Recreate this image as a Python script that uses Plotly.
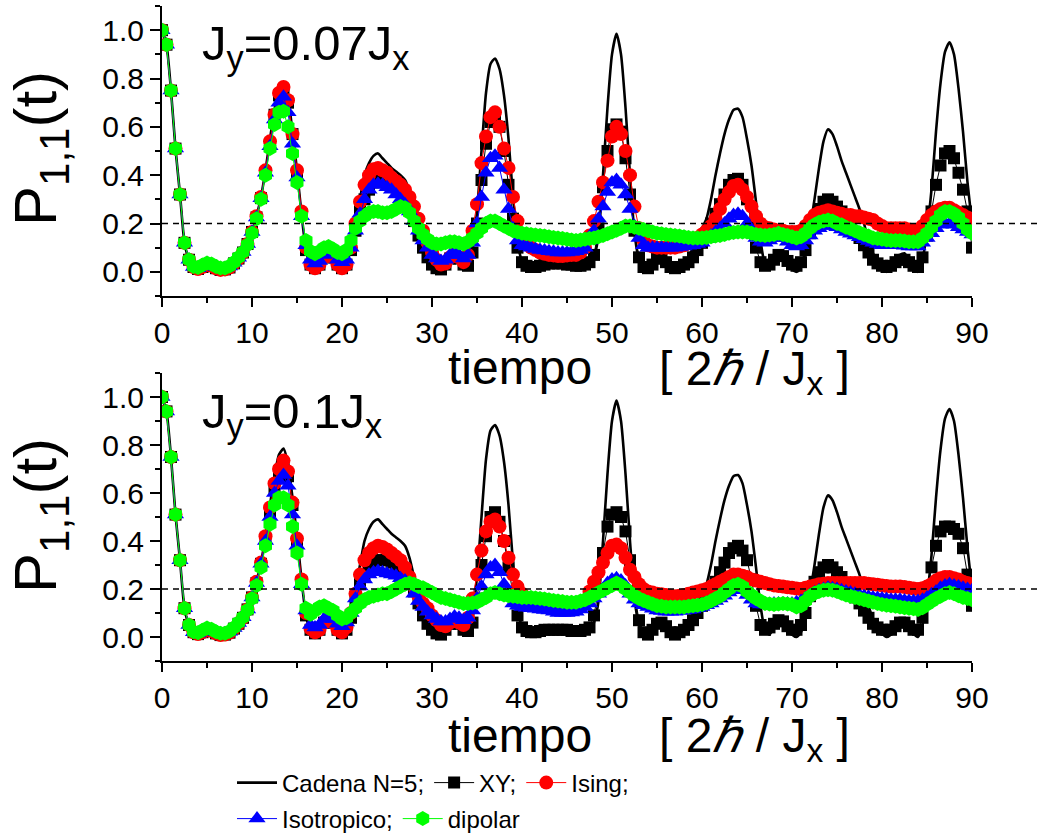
import numpy as np
import plotly.graph_objects as go

# time grid (units of 2hbar/Jx), sampled every 0.5
t = np.arange(0, 90.5, 0.5)

# ---------------- chain reference (same in both panels) ----------------
cadena = [
    1.0, 0.94, 0.75, 0.51, 0.32, 0.12, 0.05, 0.02, 0.012, 0.02,
    0.03, 0.025, 0.015, 0.008, 0.01, 0.018, 0.035, 0.055, 0.08, 0.115,
    0.165, 0.23, 0.31, 0.42, 0.55, 0.67, 0.76, 0.785, 0.72, 0.58,
    0.42, 0.24, 0.09, 0.025, 0.01, 0.03, 0.06, 0.075, 0.06, 0.03,
    0.01, 0.03, 0.10, 0.20, 0.30, 0.40, 0.45, 0.48, 0.49, 0.47,
    0.45, 0.43, 0.415, 0.40, 0.38, 0.33, 0.25, 0.16, 0.09, 0.04,
    0.015, 0.005, 0.01, 0.03, 0.06, 0.075, 0.06, 0.025, 0.02, 0.09,
    0.25, 0.50, 0.74, 0.86, 0.883, 0.84, 0.73, 0.55, 0.31, 0.13,
    0.04, 0.01, 0.005, 0.008, 0.015, 0.02, 0.025, 0.03, 0.03, 0.03,
    0.03, 0.025, 0.02, 0.015, 0.015, 0.02, 0.06, 0.15, 0.40, 0.68,
    0.90, 0.985, 0.90, 0.68, 0.40, 0.16, 0.05, 0.01, 0.0, 0.02,
    0.05, 0.065, 0.05, 0.02, 0.0, 0.01, 0.03, 0.06, 0.10, 0.14,
    0.18, 0.22, 0.30, 0.40, 0.49, 0.57, 0.63, 0.67, 0.675, 0.64,
    0.55, 0.44, 0.29, 0.13, 0.03, 0.01, 0.04, 0.07, 0.07, 0.04,
    0.01, 0.0, 0.02, 0.08, 0.18, 0.30, 0.43, 0.54, 0.59, 0.57,
    0.52, 0.46, 0.41, 0.36, 0.31, 0.26, 0.20, 0.13, 0.077, 0.04,
    0.015, 0.0, 0.01, 0.04, 0.07, 0.077, 0.05, 0.015, 0.0, 0.05,
    0.17, 0.34, 0.58, 0.78, 0.91, 0.95, 0.90, 0.76, 0.58, 0.37,
    0.20,
]

# ---------------- panel A: Jy = 0.07 Jx ----------------
xy_a = [
    1.0, 0.94, 0.75, 0.51, 0.32, 0.12, 0.05, 0.02, 0.012, 0.02,
    0.03, 0.025, 0.015, 0.008, 0.01, 0.018, 0.035, 0.055, 0.08, 0.115,
    0.165, 0.225, 0.305, 0.41, 0.53, 0.65, 0.73, 0.75, 0.70, 0.57,
    0.41, 0.24, 0.09, 0.03, 0.015, 0.03, 0.06, 0.075, 0.06, 0.03,
    0.015, 0.03, 0.09, 0.17, 0.25, 0.30, 0.34, 0.37, 0.38, 0.38,
    0.37, 0.36, 0.35, 0.33, 0.31, 0.27, 0.21, 0.15, 0.10, 0.06,
    0.03, 0.015, 0.01, 0.03, 0.055, 0.065, 0.055, 0.03, 0.025, 0.08,
    0.20, 0.38, 0.53, 0.62, 0.64, 0.60, 0.50, 0.36, 0.22, 0.10,
    0.04, 0.025, 0.02, 0.02, 0.025, 0.03, 0.035, 0.035, 0.035, 0.035,
    0.03, 0.03, 0.025, 0.025, 0.03, 0.04, 0.07, 0.18, 0.35, 0.50,
    0.59, 0.61, 0.58, 0.47, 0.32, 0.17, 0.06, 0.02, 0.015, 0.03,
    0.055, 0.055, 0.04, 0.02, 0.015, 0.02, 0.03, 0.04, 0.06, 0.09,
    0.12, 0.16, 0.20, 0.24, 0.28, 0.32, 0.36, 0.38, 0.385, 0.36,
    0.30, 0.20, 0.10, 0.04, 0.025, 0.03, 0.05, 0.07, 0.065, 0.045,
    0.03, 0.025, 0.04, 0.09, 0.16, 0.22, 0.26, 0.29, 0.30, 0.29,
    0.27, 0.25, 0.22, 0.19, 0.165, 0.14, 0.11, 0.08, 0.05, 0.035,
    0.025, 0.02, 0.025, 0.04, 0.05, 0.05, 0.04, 0.025, 0.02, 0.06,
    0.15, 0.25, 0.36, 0.44, 0.49, 0.50, 0.47, 0.41, 0.34, 0.25,
    0.10,
]
ising_a = [
    1.0, 0.94, 0.75, 0.51, 0.32, 0.12, 0.05, 0.02, 0.012, 0.02,
    0.03, 0.025, 0.015, 0.008, 0.01, 0.018, 0.035, 0.055, 0.08, 0.115,
    0.165, 0.23, 0.31, 0.42, 0.54, 0.65, 0.74, 0.765, 0.71, 0.57,
    0.42, 0.25, 0.10, 0.03, 0.015, 0.03, 0.06, 0.075, 0.06, 0.03,
    0.015, 0.03, 0.10, 0.20, 0.29, 0.36, 0.40, 0.425, 0.43, 0.42,
    0.41, 0.39, 0.375, 0.36, 0.34, 0.31, 0.27, 0.22, 0.17, 0.12,
    0.08, 0.05, 0.03, 0.035, 0.06, 0.075, 0.06, 0.04, 0.07, 0.17,
    0.28, 0.45, 0.56, 0.64, 0.66, 0.60, 0.51, 0.43, 0.31, 0.21,
    0.15, 0.12, 0.10, 0.09, 0.08, 0.075, 0.07, 0.068, 0.065, 0.065,
    0.068, 0.07, 0.07, 0.08, 0.10, 0.15, 0.21, 0.29, 0.37, 0.46,
    0.56, 0.60, 0.57, 0.50, 0.40, 0.27, 0.18, 0.13, 0.11, 0.105,
    0.10, 0.10, 0.10, 0.10, 0.10, 0.105, 0.11, 0.12, 0.13, 0.14,
    0.155, 0.17, 0.19, 0.22, 0.26, 0.30, 0.33, 0.355, 0.36, 0.34,
    0.31, 0.27, 0.23, 0.20, 0.185, 0.18, 0.175, 0.17, 0.17, 0.165,
    0.165, 0.165, 0.17, 0.19, 0.215, 0.235, 0.245, 0.25, 0.255, 0.25,
    0.245, 0.24, 0.235, 0.235, 0.23, 0.23, 0.225, 0.22, 0.215, 0.20,
    0.19, 0.18, 0.18, 0.18, 0.18, 0.18, 0.175, 0.17, 0.175, 0.19,
    0.215, 0.235, 0.25, 0.26, 0.265, 0.265, 0.255, 0.245, 0.235, 0.225,
    0.21,
]
iso_a = [
    1.0, 0.94, 0.75, 0.51, 0.32, 0.12, 0.05, 0.02, 0.015, 0.025,
    0.035, 0.03, 0.02, 0.015, 0.015, 0.022, 0.038, 0.058, 0.082, 0.115,
    0.165, 0.225, 0.305, 0.41, 0.52, 0.63, 0.70, 0.725, 0.66, 0.53,
    0.39, 0.23, 0.11, 0.05, 0.035, 0.045, 0.07, 0.085, 0.075, 0.05,
    0.04, 0.05, 0.10, 0.17, 0.24, 0.30, 0.34, 0.36, 0.365, 0.36,
    0.35, 0.34, 0.32, 0.30, 0.28, 0.25, 0.21, 0.17, 0.13, 0.10,
    0.07, 0.055, 0.045, 0.05, 0.07, 0.08, 0.07, 0.055, 0.07, 0.12,
    0.20, 0.31, 0.41, 0.47, 0.48, 0.43, 0.34, 0.26, 0.18, 0.13,
    0.11, 0.105, 0.10, 0.095, 0.09, 0.088, 0.085, 0.083, 0.08, 0.08,
    0.08, 0.082, 0.085, 0.09, 0.10, 0.13, 0.17, 0.22, 0.27, 0.33,
    0.37, 0.38, 0.36, 0.32, 0.26, 0.19, 0.14, 0.11, 0.10, 0.10,
    0.10, 0.10, 0.10, 0.10, 0.10, 0.103, 0.105, 0.108, 0.11, 0.115,
    0.12, 0.135, 0.15, 0.165, 0.18, 0.20, 0.22, 0.235, 0.24, 0.23,
    0.20, 0.17, 0.14, 0.125, 0.12, 0.13, 0.14, 0.145, 0.14, 0.125,
    0.11, 0.105, 0.11, 0.13, 0.15, 0.17, 0.18, 0.19, 0.195, 0.19,
    0.185, 0.175, 0.165, 0.158, 0.15, 0.143, 0.135, 0.128, 0.12, 0.115,
    0.11, 0.11, 0.11, 0.11, 0.11, 0.108, 0.105, 0.105, 0.105, 0.12,
    0.14, 0.16, 0.18, 0.195, 0.20, 0.20, 0.195, 0.185, 0.175, 0.165,
    0.155,
]
dip_a = [
    1.0, 0.94, 0.75, 0.51, 0.32, 0.12, 0.05, 0.022, 0.018, 0.028,
    0.037, 0.032, 0.022, 0.016, 0.016, 0.024, 0.04, 0.06, 0.082, 0.112,
    0.16, 0.22, 0.30, 0.40, 0.51, 0.61, 0.66, 0.665, 0.60, 0.49,
    0.37, 0.23, 0.13, 0.085, 0.075, 0.085, 0.10, 0.105, 0.095, 0.08,
    0.075, 0.09, 0.13, 0.18, 0.21, 0.23, 0.245, 0.25, 0.25, 0.245,
    0.245, 0.25, 0.26, 0.27, 0.265, 0.245, 0.21, 0.18, 0.155, 0.135,
    0.12, 0.115, 0.115, 0.12, 0.125, 0.125, 0.12, 0.115, 0.125, 0.14,
    0.16, 0.18, 0.20, 0.21, 0.21, 0.20, 0.19, 0.18, 0.17, 0.165,
    0.16, 0.158, 0.155, 0.152, 0.15, 0.148, 0.145, 0.142, 0.14, 0.138,
    0.135, 0.132, 0.13, 0.132, 0.135, 0.138, 0.14, 0.145, 0.15, 0.158,
    0.165, 0.172, 0.18, 0.19, 0.19, 0.185, 0.18, 0.175, 0.17, 0.165,
    0.16, 0.158, 0.155, 0.152, 0.15, 0.148, 0.145, 0.142, 0.14, 0.14,
    0.14, 0.142, 0.145, 0.148, 0.15, 0.155, 0.16, 0.163, 0.165, 0.165,
    0.165, 0.16, 0.155, 0.152, 0.15, 0.152, 0.155, 0.16, 0.155, 0.15,
    0.145, 0.14, 0.145, 0.16, 0.18, 0.195, 0.205, 0.21, 0.215, 0.21,
    0.20, 0.195, 0.185, 0.178, 0.17, 0.162, 0.155, 0.148, 0.14, 0.138,
    0.135, 0.132, 0.13, 0.13, 0.13, 0.128, 0.125, 0.125, 0.125, 0.14,
    0.16, 0.185, 0.21, 0.235, 0.25, 0.25, 0.24, 0.225, 0.20, 0.175,
    0.16,
]

# ---------------- panel B: Jy = 0.1 Jx ----------------
xy_b = [
    1.0, 0.94, 0.75, 0.51, 0.32, 0.12, 0.05, 0.02, 0.012, 0.02,
    0.03, 0.025, 0.015, 0.008, 0.01, 0.018, 0.035, 0.055, 0.08, 0.115,
    0.165, 0.225, 0.305, 0.41, 0.52, 0.62, 0.69, 0.72, 0.67, 0.55,
    0.40, 0.23, 0.09, 0.03, 0.015, 0.03, 0.06, 0.075, 0.06, 0.03,
    0.015, 0.03, 0.08, 0.15, 0.22, 0.26, 0.29, 0.31, 0.32, 0.32,
    0.32, 0.31, 0.30, 0.285, 0.27, 0.23, 0.19, 0.14, 0.09, 0.055,
    0.03, 0.015, 0.01, 0.03, 0.055, 0.065, 0.055, 0.03, 0.025, 0.06,
    0.16, 0.30, 0.42, 0.50, 0.52, 0.48, 0.40, 0.29, 0.18, 0.09,
    0.04, 0.025, 0.02, 0.02, 0.025, 0.03, 0.03, 0.03, 0.03, 0.03,
    0.03, 0.025, 0.025, 0.025, 0.03, 0.04, 0.09, 0.20, 0.35, 0.46,
    0.51, 0.52, 0.50, 0.44, 0.32, 0.18, 0.07, 0.02, 0.01, 0.03,
    0.055, 0.06, 0.045, 0.02, 0.01, 0.02, 0.03, 0.05, 0.07, 0.10,
    0.13, 0.16, 0.19, 0.23, 0.27, 0.31, 0.35, 0.37, 0.38, 0.36,
    0.32, 0.24, 0.13, 0.05, 0.03, 0.04, 0.055, 0.07, 0.065, 0.045,
    0.03, 0.03, 0.05, 0.10, 0.17, 0.23, 0.27, 0.29, 0.30, 0.29,
    0.27, 0.25, 0.22, 0.19, 0.165, 0.14, 0.11, 0.08, 0.055, 0.04,
    0.03, 0.03, 0.03, 0.045, 0.06, 0.06, 0.045, 0.03, 0.03, 0.08,
    0.18, 0.29, 0.38, 0.44, 0.46, 0.46, 0.45, 0.43, 0.37, 0.26,
    0.13,
]
ising_b = [
    1.0, 0.94, 0.75, 0.51, 0.32, 0.12, 0.05, 0.02, 0.012, 0.02,
    0.03, 0.025, 0.015, 0.008, 0.01, 0.018, 0.035, 0.055, 0.08, 0.115,
    0.165, 0.23, 0.31, 0.42, 0.54, 0.64, 0.70, 0.735, 0.69, 0.56,
    0.41, 0.24, 0.10, 0.035, 0.02, 0.03, 0.06, 0.075, 0.06, 0.03,
    0.02, 0.04, 0.10, 0.18, 0.26, 0.32, 0.35, 0.37, 0.38, 0.375,
    0.365, 0.35, 0.335, 0.32, 0.29, 0.25, 0.21, 0.17, 0.14, 0.12,
    0.09, 0.07, 0.05, 0.045, 0.06, 0.07, 0.06, 0.05, 0.08, 0.16,
    0.26, 0.36, 0.44, 0.48, 0.49, 0.46, 0.40, 0.33, 0.26, 0.21,
    0.18, 0.16, 0.15, 0.145, 0.14, 0.135, 0.13, 0.125, 0.12, 0.118,
    0.115, 0.115, 0.12, 0.13, 0.15, 0.19, 0.23, 0.27, 0.31, 0.35,
    0.38, 0.385, 0.37, 0.33, 0.28, 0.25, 0.22, 0.20, 0.19, 0.185,
    0.18, 0.178, 0.175, 0.172, 0.17, 0.172, 0.175, 0.18, 0.185, 0.19,
    0.195, 0.20, 0.21, 0.22, 0.23, 0.24, 0.25, 0.26, 0.26, 0.255,
    0.25, 0.24, 0.235, 0.23, 0.225, 0.22, 0.215, 0.212, 0.21, 0.207,
    0.205, 0.202, 0.20, 0.205, 0.21, 0.215, 0.22, 0.222, 0.225, 0.225,
    0.225, 0.225, 0.225, 0.225, 0.225, 0.225, 0.225, 0.222, 0.22, 0.218,
    0.215, 0.212, 0.21, 0.21, 0.21, 0.208, 0.205, 0.202, 0.20, 0.203,
    0.21, 0.22, 0.235, 0.245, 0.25, 0.25, 0.245, 0.24, 0.23, 0.225,
    0.22,
]
iso_b = [
    1.0, 0.94, 0.75, 0.51, 0.32, 0.12, 0.05, 0.02, 0.015, 0.025,
    0.035, 0.03, 0.02, 0.015, 0.015, 0.022, 0.038, 0.058, 0.082, 0.115,
    0.165, 0.225, 0.305, 0.40, 0.50, 0.60, 0.65, 0.675, 0.63, 0.51,
    0.38, 0.22, 0.11, 0.05, 0.04, 0.05, 0.075, 0.085, 0.075, 0.055,
    0.045, 0.06, 0.10, 0.16, 0.21, 0.24, 0.26, 0.27, 0.275, 0.27,
    0.265, 0.26, 0.255, 0.245, 0.235, 0.21, 0.18, 0.15, 0.125, 0.105,
    0.09, 0.075, 0.065, 0.065, 0.075, 0.085, 0.08, 0.07, 0.08, 0.11,
    0.16, 0.21, 0.26, 0.29, 0.30, 0.27, 0.22, 0.17, 0.14, 0.13,
    0.125, 0.122, 0.12, 0.118, 0.115, 0.112, 0.11, 0.105, 0.10, 0.10,
    0.10, 0.102, 0.105, 0.115, 0.125, 0.14, 0.16, 0.18, 0.20, 0.225,
    0.24, 0.245, 0.235, 0.215, 0.18, 0.155, 0.14, 0.132, 0.125, 0.118,
    0.11, 0.108, 0.105, 0.105, 0.105, 0.108, 0.11, 0.112, 0.115, 0.12,
    0.125, 0.132, 0.14, 0.15, 0.16, 0.172, 0.185, 0.195, 0.20, 0.195,
    0.175, 0.155, 0.14, 0.135, 0.135, 0.138, 0.14, 0.14, 0.14, 0.14,
    0.14, 0.145, 0.15, 0.162, 0.175, 0.185, 0.195, 0.20, 0.205, 0.203,
    0.20, 0.195, 0.19, 0.185, 0.18, 0.175, 0.17, 0.168, 0.165, 0.162,
    0.16, 0.158, 0.155, 0.155, 0.155, 0.152, 0.15, 0.15, 0.15, 0.155,
    0.165, 0.178, 0.19, 0.205, 0.215, 0.22, 0.215, 0.21, 0.205, 0.20,
    0.195,
]
dip_b = [
    1.0, 0.94, 0.75, 0.51, 0.32, 0.12, 0.05, 0.022, 0.018, 0.028,
    0.037, 0.032, 0.022, 0.016, 0.016, 0.024, 0.04, 0.06, 0.082, 0.112,
    0.16, 0.215, 0.29, 0.38, 0.47, 0.55, 0.58, 0.58, 0.55, 0.46,
    0.35, 0.22, 0.12, 0.095, 0.11, 0.125, 0.13, 0.12, 0.11, 0.09,
    0.075, 0.08, 0.10, 0.12, 0.14, 0.155, 0.165, 0.17, 0.175, 0.18,
    0.18, 0.19, 0.20, 0.21, 0.22, 0.225, 0.22, 0.21, 0.205, 0.195,
    0.185, 0.175, 0.165, 0.16, 0.155, 0.15, 0.145, 0.14, 0.14, 0.142,
    0.145, 0.155, 0.165, 0.18, 0.185, 0.18, 0.175, 0.172, 0.17, 0.168,
    0.165, 0.165, 0.165, 0.162, 0.16, 0.158, 0.155, 0.152, 0.15, 0.148,
    0.145, 0.145, 0.145, 0.15, 0.155, 0.165, 0.175, 0.185, 0.195, 0.205,
    0.215, 0.225, 0.215, 0.20, 0.185, 0.172, 0.16, 0.152, 0.145, 0.138,
    0.13, 0.128, 0.125, 0.125, 0.125, 0.125, 0.125, 0.128, 0.13, 0.132,
    0.135, 0.142, 0.15, 0.16, 0.17, 0.185, 0.20, 0.215, 0.22, 0.21,
    0.19, 0.175, 0.16, 0.15, 0.14, 0.137, 0.135, 0.138, 0.14, 0.138,
    0.135, 0.125, 0.13, 0.15, 0.17, 0.182, 0.19, 0.195, 0.197, 0.195,
    0.19, 0.182, 0.175, 0.17, 0.165, 0.16, 0.155, 0.15, 0.145, 0.14,
    0.135, 0.132, 0.13, 0.128, 0.125, 0.122, 0.12, 0.118, 0.115, 0.122,
    0.135, 0.148, 0.16, 0.17, 0.18, 0.185, 0.18, 0.172, 0.165, 0.16,
    0.155,
]

x_ticks = [0, 10, 20, 30, 40, 50, 60, 70, 80, 90]
y_ticks = [0.0, 0.2, 0.4, 0.6, 0.8, 1.0]
y_tick_labels = ["0.0", "0.2", "0.4", "0.6", "0.8", "1.0"]
threshold = 0.2
panel_labels = ["J<sub>y</sub>=0.07J<sub>x</sub>", "J<sub>y</sub>=0.1J<sub>x</sub>"]

FONT = "Liberation Sans, Arial, sans-serif"

fig = go.Figure()

series_style = [
    # name, color, symbol, size, legend group
    ("XY;", "#000000", "square", 12, "legend"),
    ("Ising;", "#ff0000", "circle", 14, "legend"),
    ("Isotropico;", "#0000ff", "triangle-up", 15, "legend2"),
    ("dipolar", "#00ff00", "hexagon", 15, "legend2"),
]

panels = [
    ("x", "y", [xy_a, ising_a, iso_a, dip_a], True),
    ("x2", "y2", [xy_b, ising_b, iso_b, dip_b], False),
]

for xa, ya, data, show in panels:
    fig.add_trace(go.Scatter(
        x=t, y=cadena, xaxis=xa, yaxis=ya, mode="lines", name="Cadena N=5;",
        line=dict(color="black", width=2.6, shape="spline", smoothing=0.6),
        showlegend=show, legend="legend"))
    for (name, color, sym, size, leg), vals in zip(series_style, data):
        fig.add_trace(go.Scatter(
            x=t, y=vals, xaxis=xa, yaxis=ya, mode="lines+markers", name=name,
            line=dict(color=color, width=1),
            marker=dict(symbol=sym, size=size, color=color, line=dict(width=0)),
            showlegend=show, legend=leg))

# pixel -> paper helpers (plot area spans x 162..972, y 6..661 px)
L, R, T, B = 162, 972, 6, 661
def px(x):
    return (x - L) / (R - L)
def py(y):
    return (B - y) / (B - T)

top_dom = [py(296), 1.0]
bot_dom = [0.0, py(373)]

axis_common = dict(
    showline=True, linecolor="black", linewidth=2, mirror=False,
    showgrid=False, zeroline=False, ticks="outside", tickcolor="black",
    tickwidth=1.5, tickfont=dict(family=FONT, size=30, color="black"),
)

for i, (xa, ya, dom) in enumerate([("xaxis", "yaxis", top_dom), ("xaxis2", "yaxis2", bot_dom)]):
    fig.layout[xa] = dict(
        axis_common, range=[0, 90], tickvals=x_ticks, ticklen=9,
        anchor="y" if i == 0 else "y2",
        minor=dict(dtick=5, tick0=5, ticklen=5, ticks="outside", tickcolor="black", tickwidth=1.5),
    )
    fig.layout[ya] = dict(
        axis_common, range=[-0.1, 1.1], domain=dom, tickvals=y_ticks, ticktext=y_tick_labels,
        ticklen=10, anchor="x" if i == 0 else "x2",
        minor=dict(dtick=0.1, tick0=-0.1, ticklen=5, ticks="outside", tickcolor="black", tickwidth=1.5),
    )

# dashed 0.2 reference line in each panel (extends past the right end)
shapes = []
for dom in (top_dom, bot_dom):
    yv = dom[0] + (threshold + 0.1) / 1.2 * (dom[1] - dom[0])
    shapes.append(dict(type="line", xref="paper", yref="paper", x0=0, x1=px(1037), y0=yv, y1=yv,
                       line=dict(color="black", width=1.3, dash="6px,5px")))

annotations = []
for i, dy in enumerate([0, 367]):
    annotations.append(dict(
        text="P<sub>1,1</sub>(t)", textangle=-90, xref="paper", yref="paper",
        x=px(40), y=py(148 + dy), xanchor="center", yanchor="middle", showarrow=False,
        font=dict(family=FONT, size=60, color="black")))
    annotations.append(dict(
        text="tiempo", xref="paper", yref="paper", x=px(520), y=py(368 + dy),
        xanchor="center", yanchor="middle", showarrow=False,
        font=dict(family=FONT, size=48, color="black")))
    annotations.append(dict(
        text="[ 2<i><span style='font-family:Liberation Serif'>ℏ</span></i> / J<sub>x</sub> ]",
        xref="paper", yref="paper", x=px(754), y=py(372 + dy),
        xanchor="center", yanchor="middle", showarrow=False,
        font=dict(family=FONT, size=48, color="black")))
    annotations.append(dict(
        text=panel_labels[i], xref="paper", yref="paper", x=px(200), y=py(47 + dy),
        xanchor="left", yanchor="middle", showarrow=False,
        font=dict(family=FONT, size=49, color="black")))

fig.update_layout(
    width=1037, height=837,
    margin=dict(l=L, r=1037 - R, t=T, b=837 - B),
    paper_bgcolor="white", plot_bgcolor="white",
    font=dict(family=FONT, color="black"),
    shapes=shapes, annotations=annotations,
    legend=dict(orientation="h", xref="container", yref="container",
                x=232 / 1037, y=1 - 783 / 837, xanchor="left", yanchor="middle",
                font=dict(family=FONT, size=24, color="black"), bgcolor="rgba(0,0,0,0)",
                itemwidth=40, tracegroupgap=0),
    legend2=dict(orientation="h", xref="container", yref="container",
                 x=232 / 1037, y=1 - 819 / 837, xanchor="left", yanchor="middle",
                 font=dict(family=FONT, size=24, color="black"), bgcolor="rgba(0,0,0,0)",
                 itemwidth=40, tracegroupgap=0),
)

fig.write_html("out.html")
